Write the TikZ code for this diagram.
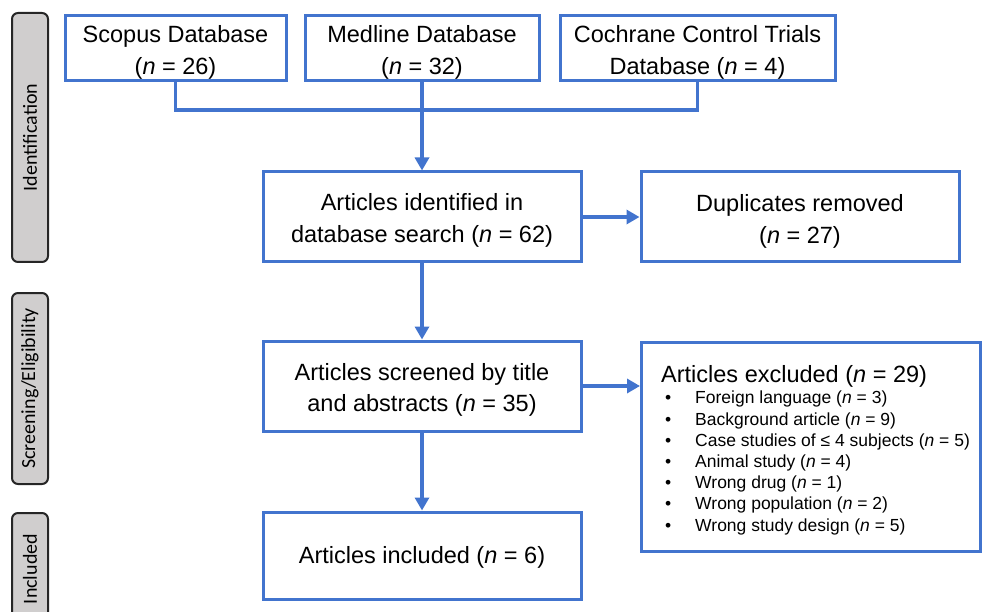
\documentclass[tikz,border=0pt]{standalone}
\usepackage{fontspec}
\setmainfont{Liberation Sans}
\newfontfamily\barfont{Carlito}
\usetikzlibrary{arrows.meta}
\definecolor{pblue}{RGB}{66,116,206}
\definecolor{bargray}{RGB}{208,206,206}
\definecolor{bardark}{RGB}{38,38,38}
\tikzset{
  box/.style={draw=pblue, line width=3pt, fill=white, inner sep=0pt},
  boxtext/.style={align=center, inner sep=0pt, text=black,
    font=\fontsize{23.5}{31.5}\selectfont},
  bar/.style={draw=bardark, line width=2pt, fill=bargray, rounded corners=6pt, rotate=90,
    minimum height=36pt, inner sep=0pt, font=\barfont\fontsize{20}{24}\selectfont, text=black},
  conn/.style={draw=pblue, line width=3.5pt},
  arr/.style={conn, -{Triangle[length=13pt,width=14pt]}},
  listtext/.style={align=left, inner sep=0pt, text=black}
}
\begin{document}
\begin{tikzpicture}[x=1pt,y=-1pt]
\useasboundingbox (0,0) rectangle (982,612);
\clip (0,0) rectangle (982,612);
% side bars
\node[bar, minimum width=249pt] (bid) at (30,137.5) {Identification};
\node[bar, minimum width=191pt] (bsc) at (30,388.5) {Screening/Eligibility};
\node[bar, minimum width=112pt] (bin) at (30,569) {Included};
% boxes
\node[box, minimum width=221pt, minimum height=65pt] (scopus) at (175.5,48.5) {};
\node[box, minimum width=234pt, minimum height=65pt] (medline) at (422,48.5) {};
\node[box, minimum width=275pt, minimum height=65pt] (cochrane) at (697.5,48.5) {};
\node[box, minimum width=318pt, minimum height=90pt] (ident) at (422,217) {};
\node[box, minimum width=318pt, minimum height=90pt] (dup) at (800,217) {};
\node[box, minimum width=318pt, minimum height=90pt] (screen) at (422,386) {};
\node[box, minimum width=339pt, minimum height=209pt] (excl) at (811,446.5) {};
\node[box, minimum width=318pt, minimum height=87pt] (incl) at (422,555.5) {};
% box texts
\node[boxtext] (scopusT) at ([yshift=-4pt]scopus.center) {Scopus Database\\(\textit{n} = 26)};
\node[boxtext] (medlineT) at ([yshift=-4pt]medline.center) {Medline Database\\(\textit{n} = 32)};
\node[boxtext] (cochraneT) at ([yshift=-4pt]cochrane.center) {Cochrane Control Trials\\Database (\textit{n} = 4)};
\node[boxtext] (identT) at ([yshift=-3.5pt]ident.center) {Articles identified in\\database search (\textit{n} = 62)};
\node[boxtext] (dupT) at ([yshift=-4.5pt]dup.center) {Duplicates removed\\(\textit{n} = 27)};
\node[boxtext] (screenT) at ([yshift=-4pt]screen.center) {Articles screened by title\\and abstracts (\textit{n} = 35)};
\node[boxtext] (inclT) at ([yshift=-2pt]incl.center) {Articles included (\textit{n} = 6)};
% excluded contents
\node[listtext, anchor=base west, font=\fontsize{23.5}{28}\selectfont] (exhead) at (661,382) {Articles excluded (\textit{n} = 29)};
\node[listtext, anchor=base west, font=\fontsize{17.5}{21.2}\selectfont] (exlist) at (665,531) {%
\makebox[30pt][l]{•}Foreign language (\textit{n} = 3)\\
\makebox[30pt][l]{•}Background article (\textit{n} = 9)\\
\makebox[30pt][l]{•}Case studies of ≤ 4 subjects (\textit{n} = 5)\\
\makebox[30pt][l]{•}Animal study (\textit{n} = 4)\\
\makebox[30pt][l]{•}Wrong drug (\textit{n} = 1)\\
\makebox[30pt][l]{•}Wrong population (\textit{n} = 2)\\
\makebox[30pt][l]{•}Wrong study design (\textit{n} = 5)};
% connectors
\coordinate (join) at (422,110);
\draw[conn] (scopus.south) |- (join) -| (cochrane.south);
\draw[arr] (medline.south) -- (ident.north);
\draw[arr] (ident.east) -- (dup.west);
\draw[arr] (ident.south) -- (screen.north);
\draw[arr] (screen.east) -- (screen.east -| excl.west);
\draw[arr] (screen.south) -- (incl.north);
\end{tikzpicture}
\end{document}
